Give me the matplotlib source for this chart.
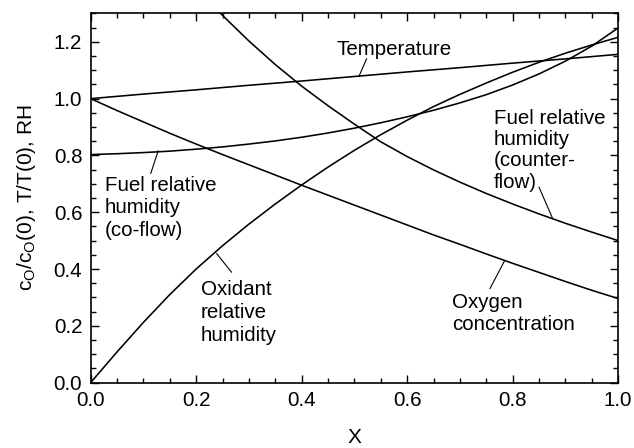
import matplotlib
matplotlib.use("Agg")
import matplotlib.pyplot as plt
from matplotlib.ticker import MultipleLocator

plt.rcParams['font.family'] = ['Liberation Sans', 'DejaVu Sans']
plt.rcParams['mathtext.fontset'] = 'custom'
plt.rcParams['mathtext.rm'] = 'Liberation Sans'
plt.rcParams['mathtext.it'] = 'Liberation Sans:italic'

# ---- data ----
x_ox = [0.0, 0.05, 0.10, 0.15, 0.20, 0.25, 0.30, 0.35, 0.40, 0.45, 0.50,
        0.55, 0.60, 0.65, 0.70, 0.75, 0.80, 0.85, 0.90, 0.95, 1.0]
oxygen = [1.0, 0.958, 0.918, 0.878, 0.840, 0.803, 0.767, 0.731, 0.695, 0.660, 0.625,
          0.590, 0.555, 0.520, 0.487, 0.453, 0.420, 0.388, 0.356, 0.325, 0.296]

x_t = [0.0, 0.1, 0.2, 0.3, 0.4, 0.5, 0.6, 0.7, 0.8, 0.9, 1.0]
temperature = [1.0, 1.016, 1.031, 1.047, 1.062, 1.078, 1.094, 1.109, 1.125, 1.140, 1.156]

x_co = x_ox
fuel_coflow = [0.803, 0.806, 0.810, 0.815, 0.822, 0.830, 0.840, 0.851, 0.864, 0.879, 0.896,
               0.915, 0.936, 0.959, 0.985, 1.014, 1.048, 1.087, 1.132, 1.185, 1.249]

x_oxrh = x_ox
oxidant_rh = [0.0, 0.108, 0.212, 0.310, 0.400, 0.482, 0.558, 0.629, 0.696, 0.759, 0.818,
              0.873, 0.924, 0.972, 1.015, 1.055, 1.093, 1.128, 1.160, 1.189, 1.216]

x_cf = [0.24, 0.25, 0.30, 0.35, 0.40, 0.45, 0.50, 0.55, 0.60, 0.65, 0.70,
        0.75, 0.80, 0.85, 0.90, 0.95, 1.0]
fuel_counterflow = [1.312, 1.293, 1.203, 1.120, 1.044, 0.975, 0.910, 0.848, 0.796, 0.749, 0.706,
                    0.666, 0.629, 0.594, 0.561, 0.530, 0.500]

x_ticks = [0.0, 0.2, 0.4, 0.6, 0.8, 1.0]
y_ticks = [0.0, 0.2, 0.4, 0.6, 0.8, 1.0, 1.2]

fig = plt.figure(figsize=(6.34, 4.48), dpi=100)
ax = fig.add_axes([0.143, 0.146, 0.832, 0.824])

lw = 1.15
for xs, ys in [(x_ox, oxygen), (x_t, temperature), (x_co, fuel_coflow),
               (x_oxrh, oxidant_rh), (x_cf, fuel_counterflow)]:
    ax.plot(xs, ys, color='black', lw=lw, solid_capstyle='butt')

ax.set_xlim(0, 1.0)
ax.set_ylim(0, 1.3)
ax.set_xticks(x_ticks)
ax.set_yticks(y_ticks)
ax.set_xticklabels([f"{v:.1f}" for v in x_ticks])
ax.set_yticklabels([f"{v:.1f}" for v in y_ticks])
ax.xaxis.set_minor_locator(MultipleLocator(0.05))
ax.yaxis.set_minor_locator(MultipleLocator(0.05))
ax.tick_params(which='both', direction='in', top=True, right=True, width=1.0,
               labelsize=14.8, pad=6, colors='black')
ax.tick_params(which='major', length=6)
ax.tick_params(which='minor', length=3.5)
for s in ax.spines.values():
    s.set_linewidth(1.2)

ax.set_xlabel('X', fontsize=15, labelpad=13)
ax.set_ylabel(r'c$_\mathregular{O}$/c$_\mathregular{O}$(0), T/T(0), RH', fontsize=15, labelpad=11)

fs = 14.8
ls = 1.25
ax.text(0.466, 1.174, 'Temperature', fontsize=fs, ha='left', va='center')
ax.plot([0.523, 0.509], [1.140, 1.080], color='black', lw=0.8)

ax.text(0.027, 0.615, 'Fuel relative\nhumidity\n(co-flow)', fontsize=fs,
        ha='left', va='center', linespacing=ls)
ax.plot([0.128, 0.114], [0.816, 0.737], color='black', lw=0.8)

ax.text(0.209, 0.246, 'Oxidant\nrelative\nhumidity', fontsize=fs,
        ha='left', va='center', linespacing=ls)
ax.plot([0.239, 0.267], [0.454, 0.389], color='black', lw=0.8)

ax.text(0.764, 0.818, 'Fuel relative\nhumidity\n(counter-\nflow)', fontsize=fs,
        ha='left', va='center', linespacing=1.15)
ax.plot([0.876, 0.850], [0.577, 0.688], color='black', lw=0.8)

ax.text(0.685, 0.243, 'Oxygen\nconcentration', fontsize=fs,
        ha='left', va='center', linespacing=ls)
ax.plot([0.785, 0.757], [0.430, 0.331], color='black', lw=0.8)

fig.savefig('out.png', dpi=100)
